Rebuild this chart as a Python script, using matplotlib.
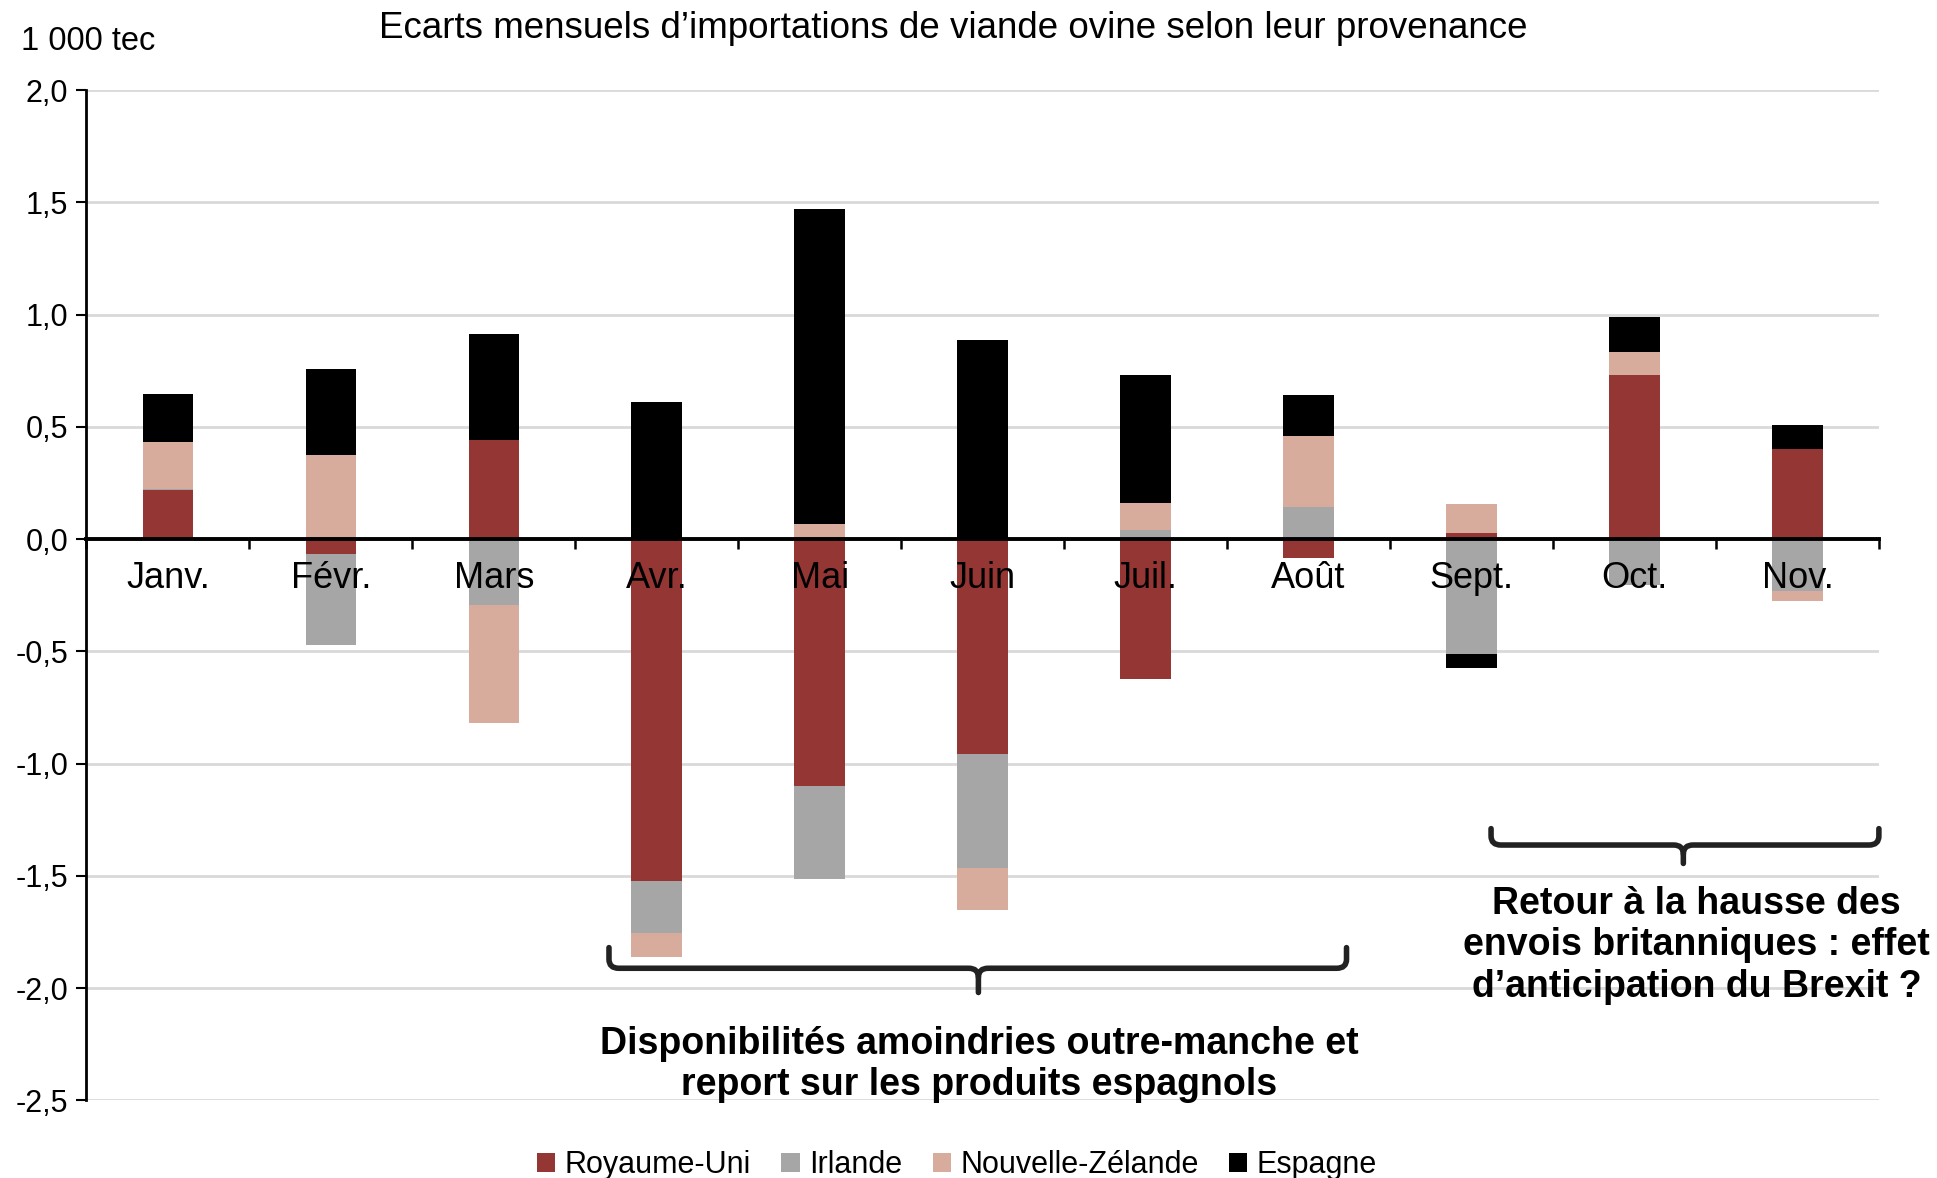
import numpy as np
import matplotlib
matplotlib.use('Agg')
import matplotlib.pyplot as plt
from matplotlib.path import Path
from matplotlib.patches import PathPatch

plt.rcParams['font.family'] = ['Liberation Sans', 'DejaVu Sans']

months = ['Janv.', 'Févr.', 'Mars', 'Avr.', 'Mai', 'Juin', 'Juil.', 'Août', 'Sept.', 'Oct.', 'Nov.']
royaume_uni = [0.217, -0.067, 0.44, -1.525, -1.102, -0.959, -0.623, -0.086, 0.028, 0.732, 0.402]
irlande = [0.005, -0.406, -0.294, -0.232, -0.414, -0.507, 0.039, 0.141, -0.513, -0.205, -0.231]
nouvelle_zelande = [0.21, 0.374, -0.525, -0.106, 0.066, -0.186, 0.12, 0.316, 0.13, 0.103, -0.043]
espagne = [0.216, 0.382, 0.472, 0.611, 1.404, 0.886, 0.573, 0.183, -0.061, 0.156, 0.105]

series = [('Royaume-Uni', royaume_uni, '#943634'),
          ('Irlande', irlande, '#a6a6a6'),
          ('Nouvelle-Zélande', nouvelle_zelande, '#d8ac9c'),
          ('Espagne', espagne, '#000000')]

fig = plt.figure(figsize=(19.37, 11.78), dpi=100)
ax = fig.add_axes([0.0446, 0.066, 0.9254, 0.8575])

x = np.arange(len(months))
pos_base = np.zeros(len(months))
neg_base = np.zeros(len(months))
for name, vals, color in series:
    v = np.array(vals)
    bottom = np.where(v >= 0, pos_base, neg_base)
    ax.bar(x, v, 0.31, bottom=bottom, color=color, label=name, zorder=3)
    pos_base += np.where(v >= 0, v, 0)
    neg_base += np.where(v < 0, v, 0)

ax.set_xlim(-0.5, len(months) - 0.5)
ax.set_ylim(-2.5, 2.0)
yt = np.arange(-2.5, 2.01, 0.5)
ax.set_yticks(yt)
ax.set_yticklabels([f'{t:.1f}'.replace('.', ',') for t in yt], fontsize=22)
ax.yaxis.grid(True, color='#d9d9d9', linewidth=2, zorder=0)
ax.tick_params(axis='y', length=7, width=1.5, pad=6)

ax.spines['top'].set_visible(False)
ax.spines['right'].set_visible(False)
ax.spines['left'].set_linewidth(2)
ax.spines['bottom'].set_position(('data', 0))
ax.spines['bottom'].set_linewidth(2.8)
ax.spines['bottom'].set_zorder(4)

# month labels drawn over the bars, like in the original
ax.set_xticks(np.arange(-0.5, len(months) + 0.5))
ax.set_xticklabels([])
ax.tick_params(axis='x', length=7, width=1.8, direction='out')
for i, m in enumerate(months):
    ax.annotate(m, xy=(i, 0), xytext=(0, -28.5), textcoords='offset points',
                ha='center', va='center', fontsize=26, zorder=6)

fig.text(0.492, 0.976, 'Ecarts mensuels d’importations de viande ovine selon leur provenance',
         ha='center', va='center', fontsize=26.5)
fig.text(0.011, 0.965, '1 000 tec', ha='left', va='center', fontsize=23.5)


def brace(x0, x1, xm, y_end, y_line, y_tip):
    r = 0.04
    verts = [(x0, y_end), (x0, y_line + r), (x0, y_line), (x0 + 0.06, y_line),
             (xm - 0.06, y_line), (xm, y_line), (xm, y_line - r), (xm, y_tip)]
    codes = [Path.MOVETO, Path.LINETO, Path.CURVE3, Path.CURVE3,
             Path.LINETO, Path.CURVE3, Path.CURVE3, Path.LINETO]
    ax.add_patch(PathPatch(Path(verts, codes), fill=False, lw=4, color='#222222',
                           capstyle='round', joinstyle='round', clip_on=False, zorder=6))
    verts = [(x1, y_end), (x1, y_line + r), (x1, y_line), (x1 - 0.06, y_line),
             (xm + 0.06, y_line), (xm, y_line), (xm, y_line - r)]
    codes = [Path.MOVETO, Path.LINETO, Path.CURVE3, Path.CURVE3,
             Path.LINETO, Path.CURVE3, Path.CURVE3]
    ax.add_patch(PathPatch(Path(verts, codes), fill=False, lw=4, color='#222222',
                           capstyle='round', joinstyle='round', clip_on=False, zorder=6))


brace(2.707, 7.233, 4.974, -1.82, -1.912, -2.02)
brace(8.12, 10.5, 9.30, -1.29, -1.363, -1.445)

ax.text(4.98, -2.34, 'Disponibilités amoindries outre-manche et\nreport sur les produits espagnols',
        ha='center', va='center', fontsize=27, fontweight='bold', linespacing=1.2, zorder=6)
ax.text(9.38, -1.81, 'Retour à la hausse des\nenvois britanniques : effet\nd’anticipation du Brexit ?',
        ha='center', va='center', fontsize=27, fontweight='bold', linespacing=1.2, zorder=6,
        clip_on=False)

fig.legend(loc='center', bbox_to_anchor=(0.494, 0.011), ncol=4, frameon=False, fontsize=22,
           handlelength=0.6, handleheight=0.6, handletextpad=0.3, columnspacing=1.0)

fig.savefig('out.png', dpi=100)
